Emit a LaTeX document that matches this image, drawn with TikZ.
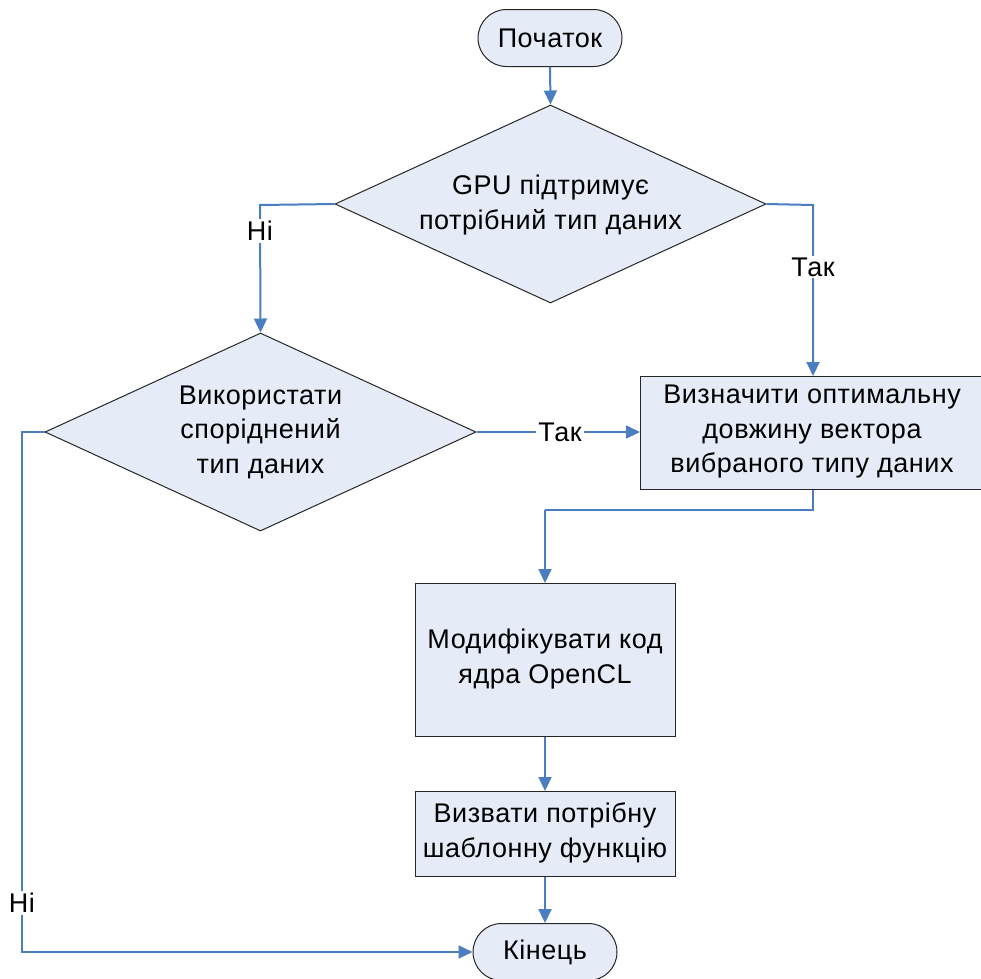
\documentclass[tikz,border=0pt]{standalone}
\usepackage{fontspec}
\setmainfont{Liberation Sans}[LetterSpace=2]
\usetikzlibrary{arrows.meta,shapes.geometric,shapes.misc}
\definecolor{lineblue}{RGB}{74,126,193}
\definecolor{boxfill}{RGB}{230,236,247}
\tikzset{
  txt/.style={font=\fontsize{27}{34.5}\selectfont, align=center},
  base/.style={draw=black!85, fill=boxfill, line width=1pt, inner sep=0pt, txt},
  term/.style={base, rounded rectangle, minimum width=144pt, minimum height=57pt},
  proc/.style={base, rectangle, anchor=north west},
  decis/.style={base, diamond, minimum width=431pt, minimum height=198pt},
  conn/.style={draw=lineblue, line width=2pt, line join=miter, -{Triangle[length=14pt,width=13pt]}},
  plain/.style={draw=lineblue, line width=2pt, line join=miter},
  lbl/.style={fill=white, inner sep=2pt, txt}
}
\begin{document}
\begin{tikzpicture}[x=1pt,y=-1pt]
\useasboundingbox (0,0) rectangle (981,978);
\node[term] (start) at (550,38) {Початок};
\node[decis] (d1) at (550.5,204) {};
\node[txt] (t1) at (550.5,205) {GPU підтримує\\потрібний тип даних};
\node[decis] (d2) at (260.5,432) {};
\node[txt] (t2) at (260.5,432) {Використати\\споріднений\\тип даних};
\node[proc, minimum width=344pt, minimum height=113pt] (b1) at (640,376) {};
\node[txt] (tb1) at (812,432) {Визначити оптимальну\\довжину вектора\\вибраного типу даних};
\node[proc, minimum width=260pt, minimum height=153pt] (b2) at (415,583) {};
\node[txt] (tb2) at (545,659) {Модифікувати код\\ядра OpenCL};
\node[proc, minimum width=260pt, minimum height=85pt] (b3) at (415,791) {};
\node[txt] (tb3) at (545,833) {Визвати потрібну\\шаблонну функцію};
\node[term] (end) at (545,952) {Кінець};

\coordinate (c1) at (260,205);
\coordinate (c2) at (813,205);
\coordinate (c3) at (813,510);
\coordinate (c4) at (545,510);
\coordinate (c5) at (22,432);
\coordinate (c6) at (22,952);

\draw[conn] (start.south) -- (d1.north);
\draw[conn] (d1.west) -- (c1) -- (d2.north);
\draw[conn] (d1.east) -- (c2) -- (c2 |- b1.north);
\draw[conn] (d2.east) -- (d2.east -| b1.west);
\draw[plain] (b1.south -| c2) -- (c3) -- (c4);
\draw[conn] (c4) -- (c4 |- b2.north);
\draw[conn] (b2.south -| tb2) -- (b3.north -| tb2);
\draw[conn] (b3.south -| tb3) -- (end.north);
\draw[conn] (d2.west) -- (c5) -- (c6) -- (end.west);

\node[lbl] (l1) at (260,231) {Ні};
\node[lbl] (l2) at (813,267) {Так};
\node[lbl] (l3) at (560,432) {Так};
\node[lbl] (l4) at (22,903) {Ні};
\end{tikzpicture}
\end{document}
